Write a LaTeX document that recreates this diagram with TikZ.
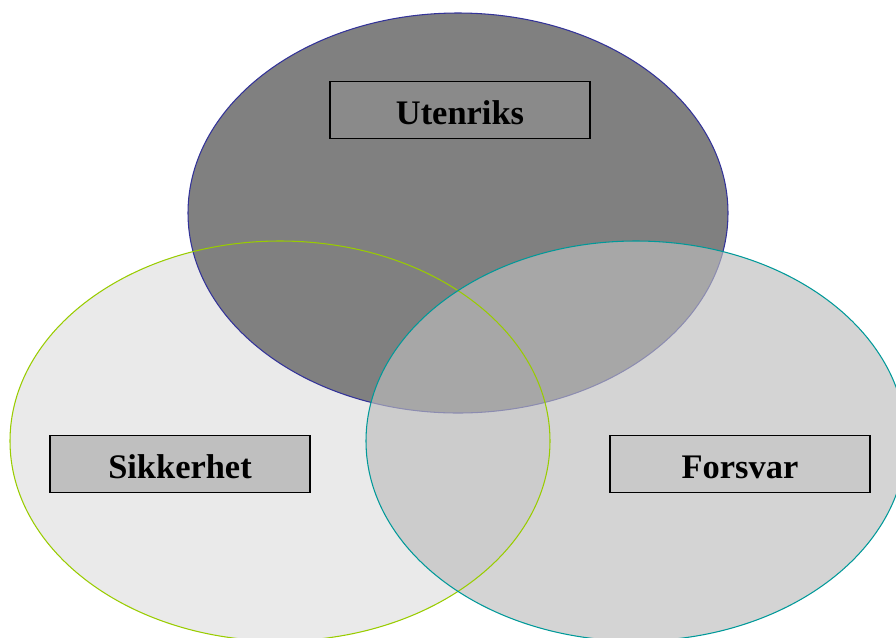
\documentclass[tikz,border=0pt]{standalone}
\usepackage{fontspec}
\setmainfont{Liberation Serif}
\usetikzlibrary{positioning}

\definecolor{topgray}{HTML}{808080}
\definecolor{leftgray}{HTML}{EAEAEA}
\definecolor{rightgray}{HTML}{BDBDBD}
\definecolor{navyline}{HTML}{333399}
\definecolor{limeline}{HTML}{99CC00}
\definecolor{tealline}{HTML}{009999}

\tikzset{
  areabox/.style={draw=black, line width=1.1pt, minimum width=5.2cm, minimum height=1.14cm, text height=16pt, text depth=0pt, font=\fontsize{19.6}{23}\selectfont\bfseries}
}

\begin{document}
\begin{tikzpicture}[x=0.02cm, y=-0.02cm]
    \useasboundingbox (0,0) rectangle (896,637);
    % the three fields
    \fill[leftgray] (280,441) ellipse [x radius=270, y radius=200];
    \filldraw[fill=topgray, draw=navyline, line width=0.6pt] (458,213) ellipse [x radius=270, y radius=200];
    \fill[rightgray, fill opacity=0.65] (636,441) ellipse [x radius=270, y radius=200];
    \draw[limeline, line width=0.6pt] (280,441) ellipse [x radius=270, y radius=200];
    \draw[tealline, line width=0.6pt] (636,441) ellipse [x radius=270, y radius=200];
    % labels
    \node[areabox, fill=topgray!92!white] (utenriks) at (460,110) {Utenriks};
    \node[areabox, fill=black!25] (sikkerhet) at (180,464) {Sikkerhet};
    \node[areabox, fill=black!21] (forsvar) at (740,464) {Forsvar};
\end{tikzpicture}
\end{document}
